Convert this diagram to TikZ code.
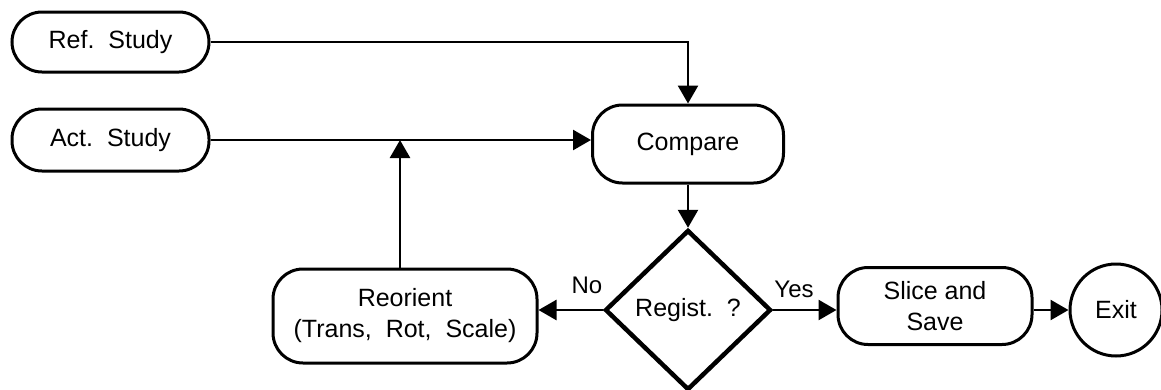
\documentclass[tikz,border=0pt]{standalone}
\usepackage{fontspec}
\setmainfont{Liberation Sans}
\usetikzlibrary{shapes.geometric,arrows.meta}
\begin{document}
\begin{tikzpicture}[x=1pt,y=-1pt,
  txt/.style={font=\fontsize{25}{31}\selectfont},
  term/.style={txt,draw,line width=3pt,rounded corners=30pt,inner sep=0pt,align=center},
  dec/.style={txt,draw,diamond,line width=4.5pt,inner sep=0pt,minimum width=166pt,minimum height=160pt},
  endc/.style={txt,draw,circle,line width=3pt,inner sep=0pt,minimum size=92pt},
  conn/.style={line width=2.6pt,-{Triangle[length=18pt,width=20pt]}},
  lbl/.style={font=\fontsize{24}{28}\selectfont}]
\useasboundingbox (0,0) rectangle (1161,389);
\node[term,minimum width=197pt,minimum height=60pt] (ref) at (110.5,42) {Ref.\ \ Study};
\node[term,minimum width=197pt,minimum height=62pt] (act) at (110.5,140) {Act.\ \ Study};
\node[term,minimum width=191pt,minimum height=78pt] (cmp) at (688,144) {Compare};
\node[dec] (reg) at (688,310) {Regist.\ \ ?};
\node[term,minimum width=264pt,minimum height=94pt] (reo) at (405,316) {Reorient\\(Trans,\ \ Rot,\ \ Scale)};
\node[term,minimum width=194pt,minimum height=77pt] (sli) at (935,306) {Slice and\\Save};
\node[endc] (ex) at (1116,310) {Exit};
\coordinate (up) at ([xshift=-5pt]reo.north);
\draw[conn] (ref.east) -- (ref.east -| cmp.north) -- (cmp.north);
\draw[conn] (act.east) -- (act.east -| cmp.west);
\draw[conn] (cmp.south) -- (reg.north);
\draw[conn] (reg.west) -- (reg.west -| reo.east);
\draw[conn] (up) -- (up |- act.east);
\draw[conn] (reg.east) -- (reg.east -| sli.west);
\draw[conn] (reg.east -| sli.east) -- (ex.west);
\node[lbl] (no) at (587,285) {No};
\node[lbl] (yes) at (794,289) {Yes};
\end{tikzpicture}
\end{document}
